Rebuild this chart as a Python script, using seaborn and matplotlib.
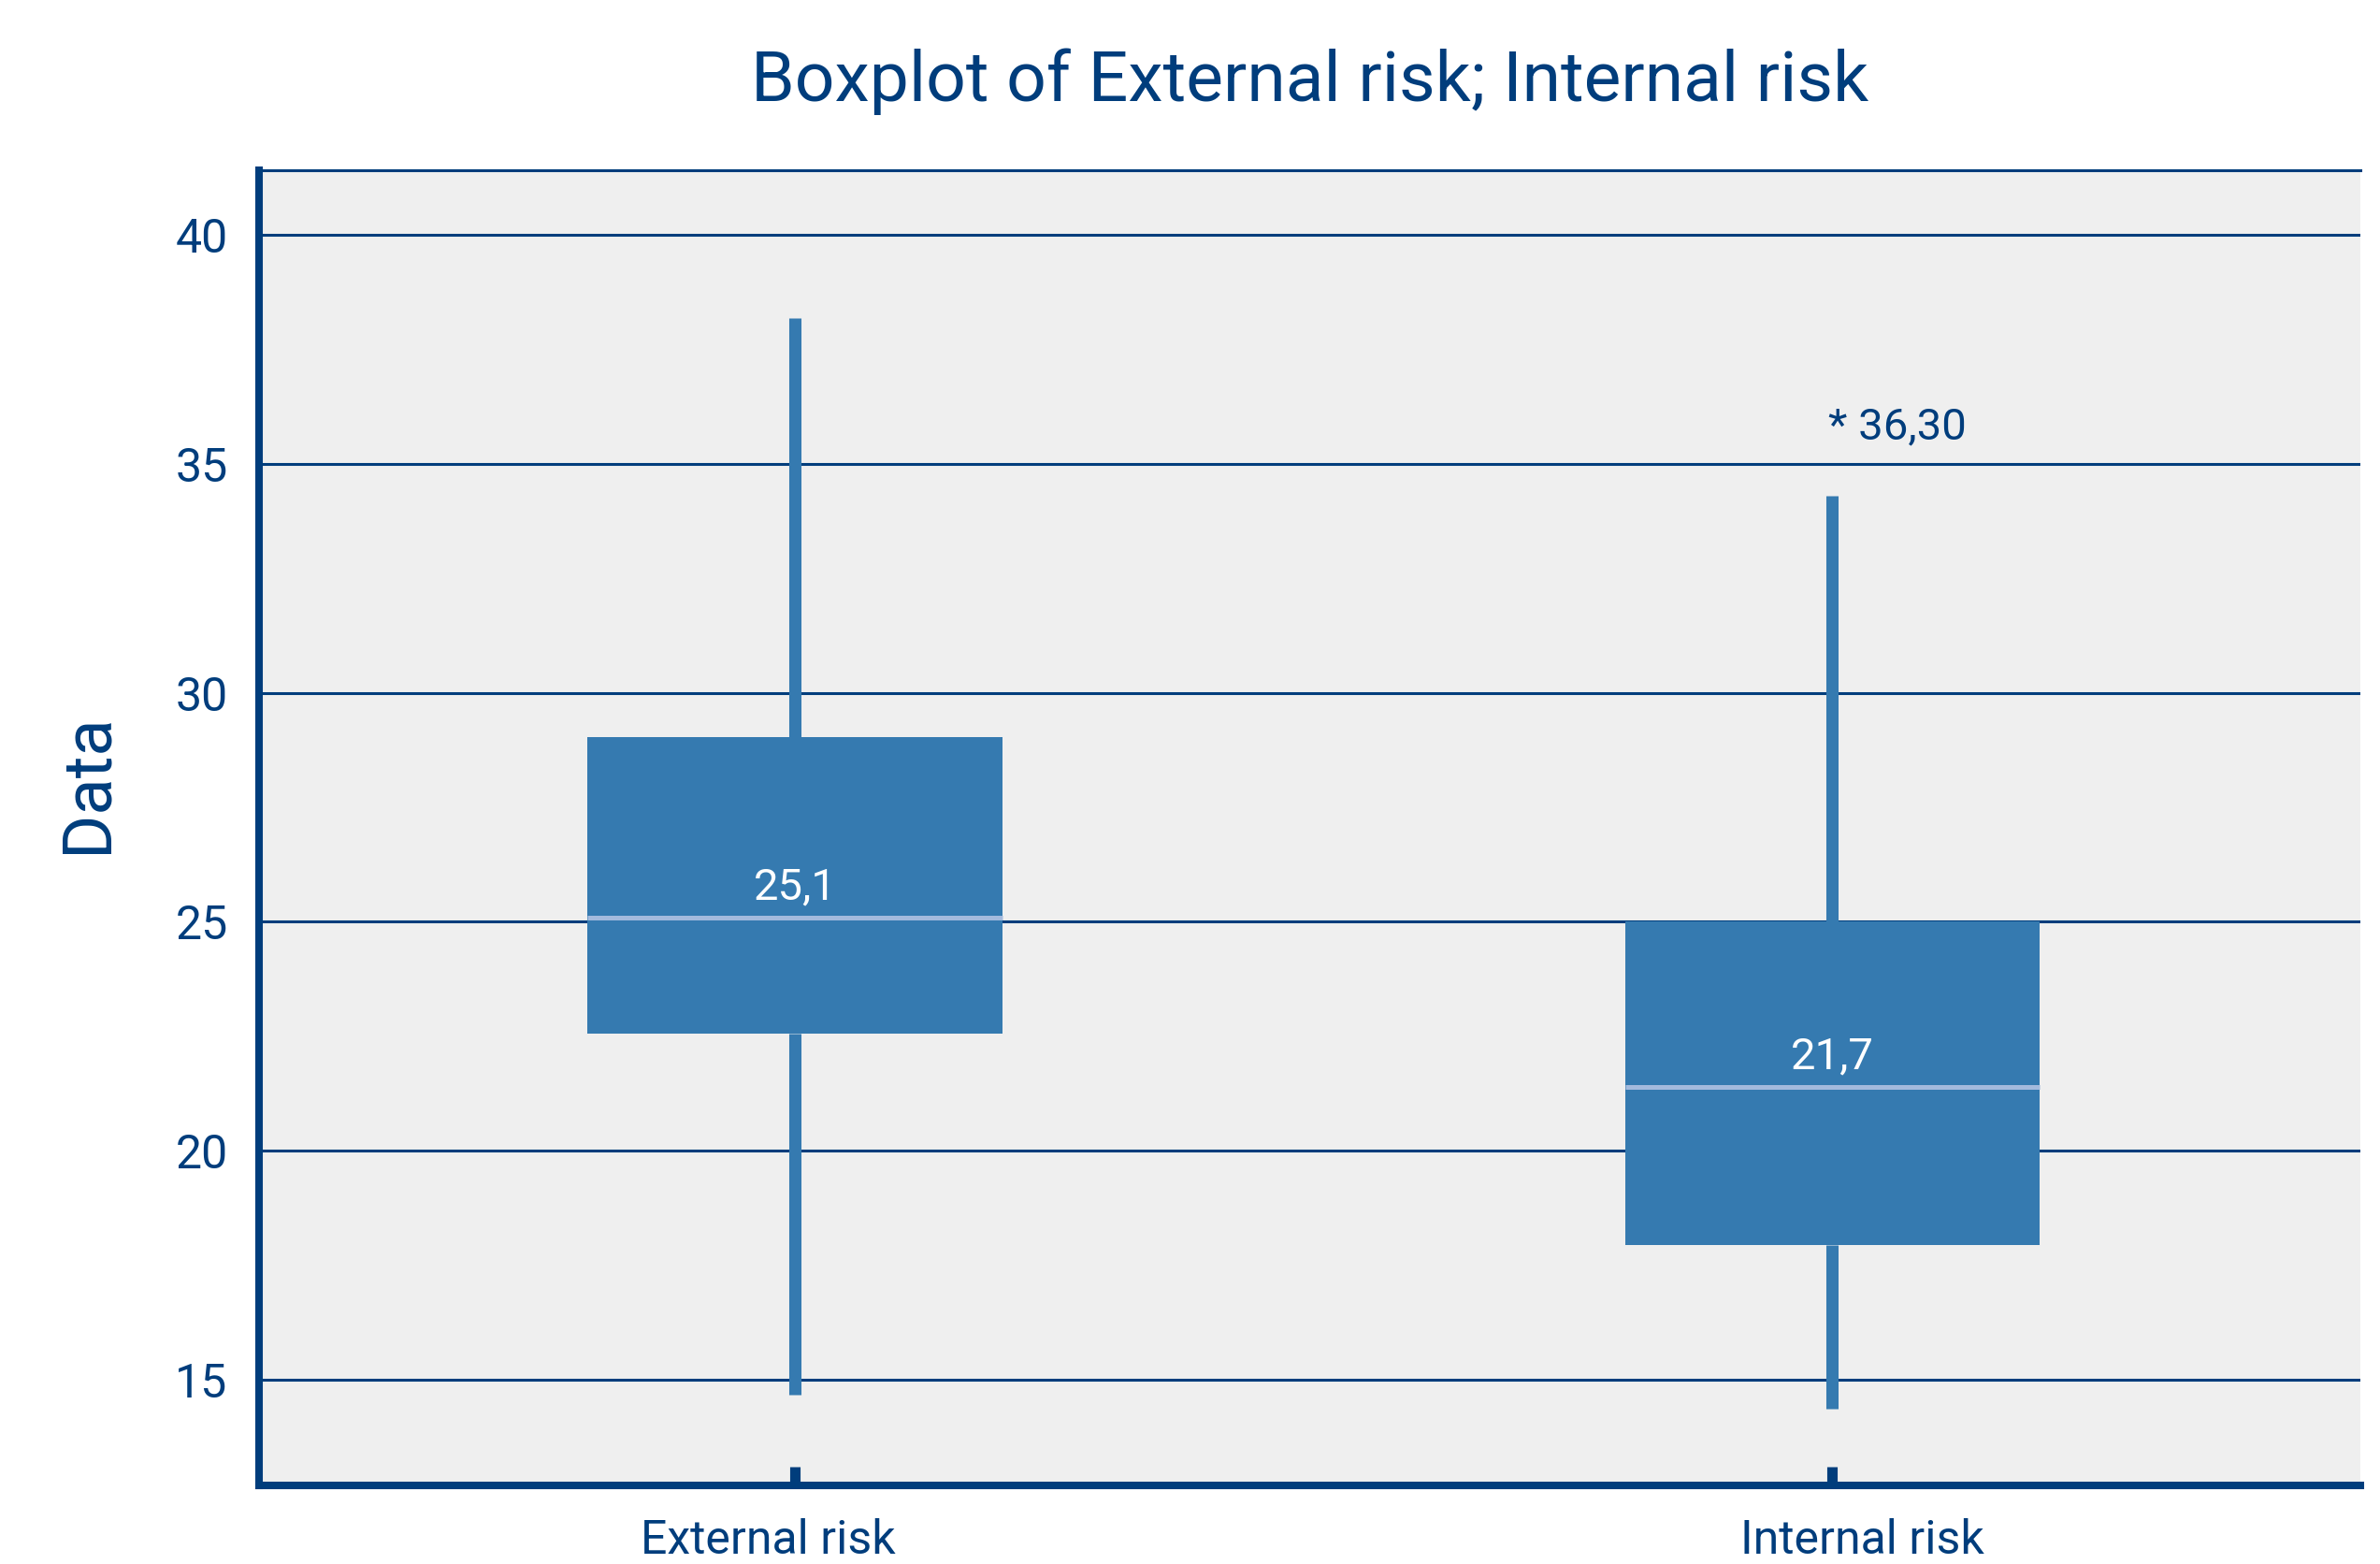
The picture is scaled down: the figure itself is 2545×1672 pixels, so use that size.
import numpy as np
import seaborn as sns
import matplotlib
matplotlib.use("Agg")
import matplotlib.pyplot as plt
import matplotlib.transforms as mtransforms

# summary values
groups = ["External risk", "Internal risk"]
whislo = [14.67, 14.37]
q1 = [22.56, 17.95]
med = [25.1, 21.4]
q3 = [29.03, 25.0]
whishi = [38.18, 34.3]
fliers = [[], [36.3]]
median_labels = ["25,1", "21,7"]
yticks = [15, 20, 25, 30, 35, 40]

navy = "#003d7c"
box_col = "#357ab0"
med_col = "#a3badd"
bg = "#efefef"

sns.set_theme(style="white")
plt.rcParams['font.family'] = ['Roboto', 'DejaVu Sans']

stats = []
for i, g in enumerate(groups):
    stats.append(dict(label=g, whislo=whislo[i], q1=q1[i], med=med[i],
                      q3=q3[i], whishi=whishi[i], fliers=fliers[i]))

fig = plt.figure(figsize=(25.45, 16.72), dpi=100)
ax = fig.add_axes([0.1088, 0.0502, 0.8829, 0.8409])
ax.set_facecolor(bg)
ax.set_axisbelow(True)

pos = np.arange(len(groups))
ax.bxp(stats, positions=pos, widths=0.4, patch_artist=True,
       showcaps=False, showfliers=False,
       boxprops=dict(facecolor=box_col, edgecolor="none", linewidth=0),
       whiskerprops=dict(color=box_col, linewidth=9.4, solid_capstyle="butt"),
       medianprops=dict(color=med_col, linewidth=3.6, solid_capstyle="butt"))

# median labels
for p, m, t in zip(pos, med, median_labels):
    ax.annotate(t, xy=(p, m), xytext=(0, 14), textcoords="offset points",
                ha="center", va="baseline", color="white", fontsize=34)

# outliers marked with an asterisk and their value
for p, fl in zip(pos, fliers):
    for v in fl:
        ax.annotate("* " + f"{v:.2f}".replace(".", ","), xy=(p, v),
                    xytext=(-3, -27), textcoords="offset points",
                    ha="left", va="baseline", color=navy, fontsize=34)

ax.set_xlim(-0.517, 1.509)
ax.set_ylim(12.69, 41.41)
ax.set_yticks(yticks)
ax.set_xticks(pos)
ax.set_xticklabels(groups)
ax.yaxis.grid(True, color=navy, linewidth=2.2)
ax.xaxis.grid(False)

ax.tick_params(axis="y", left=False, length=0, pad=24, labelsize=36,
               labelcolor=navy)
ax.tick_params(axis="x", bottom=True, direction="in", length=14.4, width=8,
               color=navy, pad=25, labelsize=36, labelcolor=navy)

for lab, dx in zip(ax.get_xticklabels(), [-29, 32]):
    lab.set_transform(lab.get_transform() +
                      mtransforms.ScaledTranslation(dx / 100, 0, fig.dpi_scale_trans))

ax.spines["right"].set_visible(False)
ax.spines["top"].set_color(navy)
ax.spines["top"].set_linewidth(2.2)
for s in ["left", "bottom"]:
    ax.spines[s].set_color(navy)
    ax.spines[s].set_linewidth(5.8)

ax.set_title("Boxplot of External risk; Internal risk", fontsize=54,
             color=navy, pad=53)
ax.set_ylabel("Data", fontsize=52, color=navy)
ax.yaxis.set_label_coords(-0.0814, 0.534)
ax.yaxis.label.set_va("center")

fig.savefig("out.png", dpi=100)
